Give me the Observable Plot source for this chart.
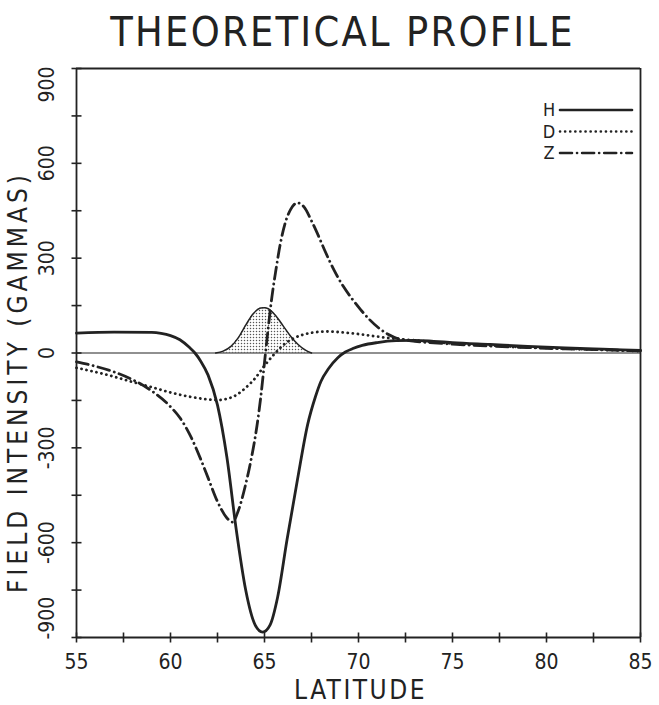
<!DOCTYPE html>
<html><head><meta charset="utf-8">
<script src="https://cdn.jsdelivr.net/npm/d3@7"></script>
<script src="https://cdn.jsdelivr.net/npm/@observablehq/plot@0.6"></script>
<style>body{margin:0;background:#fff}</style>
</head><body><div id="chart"></div>
<script>
// ---- data ----
const hLat = [55,57,59,59.5,60,60.5,61,61.3,61.6,62,62.5,63,63.5,64,64.5,64.9,65.3,65.7,66.2,66.75,67.3,67.7,68,68.4,68.9,69.3,69.7,70.2,71,72,73,74,75,77,79,81,83,85];
const hVal = [63,66,65,62,55,42,18,0,-25,-70,-165,-330,-560,-750,-860,-883,-860,-772,-590,-402,-225,-140,-90,-50,-15,3,14,24,33,39,40,37,33,27,21,16,12,8];

const dLat = [55,56,57,58,59,60,61,62,62.5,63,63.5,64,64.5,65,65.5,66,66.5,67,67.5,68.3,69,70,71,72,73,74,75,77,79,81,83,85];
const dVal = [-47,-60,-75,-92,-108,-125,-138,-147,-149,-145,-133,-110,-80,-40,-5,25,45,57,64,68,66,60,52,45,40,35,30,24,18,14,10,6];

const zLat = [55,56,57,58,59,60,60.5,61,61.6,62,62.5,63,63.3,63.6,64,64.25,64.6,64.8,65,65.2,65.4,65.6,65.85,66.1,66.4,66.75,67.1,67.5,67.8,68.2,68.7,69.2,69.7,70.1,70.6,71.1,71.9,73,74,75,77,79,81,83,85];
const zVal = [-28,-42,-60,-85,-120,-170,-205,-255,-335,-395,-470,-522,-535,-500,-415,-348,-230,-140,-30,80,180,260,348,411,455,475,462,418,380,325,262,210,168,138,105,78,50,37,32,28,22,17,13,10,7];

const humpLat = [62.4,62.8,63.2,63.6,64.0,64.4,64.8,65.0,65.2,65.6,66.0,66.4,66.8,67.2,67.5];
const humpVal = [0,6,20,48,88,124,142,143,140,118,85,52,26,8,0];

const xDomain = [55, 85];
const yDomain = [-900, 900];
const xTickValues = d3.range(55, 85.01, 2.5);
const xTickLabels = [55,60,65,70,75,80,85];
const yTickValues = d3.range(-900, 900.01, 150);
const yTickLabels = [-900,-600,-300,0,300,600,900];
const legendKeys = ["H","D","Z"];

const title = "THEORETICAL PROFILE";
const xTitle = "LATITUDE";
const yTitle = "FIELD INTENSITY (GAMMAS)";

// ---- build ----
const zip = (xs, ys) => xs.map((x, i) => ({lat: x, val: ys[i]}));
const H = zip(hLat, hVal), D = zip(dLat, dVal), Z = zip(zLat, zVal), hump = zip(humpLat, humpVal);

const INK = "#222";
const FONT = "'DejaVu Sans Condensed', 'DejaVu Sans', sans-serif";
const curve = "monotone-x";
const dotted = "0.1,5";
const dashdot = "12,5,0.1,5";
const dashes = ["none", dotted, dashdot];

const hbar = {draw(ctx, size) { const r = Math.sqrt(size / Math.PI); ctx.moveTo(-r, 0); ctx.lineTo(r, 0); }};
const vbar = {draw(ctx, size) { const r = Math.sqrt(size / Math.PI); ctx.moveTo(0, -r); ctx.lineTo(0, r); }};

function legendMark(index, scales, values, dims) {
  const g = d3.create("svg:g");
  const right = dims.width - dims.marginRight;
  legendKeys.forEach((k, i) => {
    const y = dims.marginTop + 42 + i * 21.5;
    g.append("text").attr("x", right - 91).attr("y", y).attr("dy", "0.36em")
      .attr("text-anchor", "middle").attr("font-size", 18).attr("fill", INK)
      .attr("font-family", FONT).text(k);
    g.append("line").attr("x1", right - 80).attr("x2", right - 8).attr("y1", y).attr("y2", y)
      .attr("stroke", INK).attr("stroke-width", 2.6).attr("stroke-linecap", "round")
      .attr("stroke-dasharray", dashes[i]);
  });
  return g.node();
}

const yMid = yTickLabels.filter(d => d > yDomain[0] && d < yDomain[1]);
const yTop = yTickLabels.filter(d => d === yDomain[1]);
const yBot = yTickLabels.filter(d => d === yDomain[0]);
const yLab = {text: d => String(d), frameAnchor: "left", dx: -29, rotate: -90, fontSize: 21, fill: INK, lineAnchor: "middle"};

const plot = Plot.plot({
  width: 659, height: 705,
  marginLeft: 76, marginRight: 19, marginTop: 68, marginBottom: 68,
  style: {fontFamily: FONT, background: "#fff", color: INK},
  x: {domain: xDomain, axis: null},
  y: {domain: yDomain, axis: null},
  marks: [
    Plot.areaY(hump, {x: "lat", y: "val", fill: "url(#stipple)", curve}),
    Plot.lineY(hump, {x: "lat", y: "val", stroke: INK, strokeWidth: 1.5, curve}),
    Plot.ruleY([0], {stroke: INK, strokeWidth: 1.2}),
    Plot.ruleX(xDomain, {stroke: INK, strokeWidth: 1.8}),
    Plot.ruleY(yDomain, {stroke: INK, strokeWidth: 1.8}),
    Plot.line(H, {x: "lat", y: "val", stroke: INK, strokeWidth: 2.8, curve}),
    Plot.line(D, {x: "lat", y: "val", stroke: INK, strokeWidth: 2.8, strokeDasharray: dotted, strokeLinecap: "round", curve}),
    Plot.line(Z, {x: "lat", y: "val", stroke: INK, strokeWidth: 2.8, strokeDasharray: dashdot, strokeLinecap: "round", curve}),
    Plot.dot(xTickValues, {x: d => d, frameAnchor: "bottom", symbol: vbar, r: 5, stroke: INK, strokeWidth: 1.6}),
    Plot.dot(yTickValues, {y: d => d, frameAnchor: "left", symbol: hbar, r: 5, stroke: INK, strokeWidth: 1.6}),
    Plot.text(xTickLabels, {x: d => d, text: d => String(d), frameAnchor: "bottom", dy: 25, fontSize: 21, fill: INK, lineAnchor: "middle"}),
    Plot.text(yMid, {y: d => d, textAnchor: "middle", ...yLab}),
    Plot.text(yTop, {y: d => d, textAnchor: "end", dy: -2, ...yLab}),
    Plot.text(yBot, {y: d => d, textAnchor: "start", dy: 2, ...yLab}),
    Plot.text([xTitle], {text: d => d, frameAnchor: "bottom", dx: 2, dy: 53, fontSize: 26, fill: INK, lineAnchor: "middle"}),
    Plot.text([yTitle], {text: d => d, frameAnchor: "left", dx: -58, dy: 29, rotate: -90, textAnchor: "middle", lineAnchor: "middle", fontSize: 26, fill: INK}),
    Plot.text([title], {text: d => d, frameAnchor: "top", dx: -16, dy: -36, fontSize: 41, fill: INK, lineAnchor: "middle"}),
    legendMark
  ]
});

const svg = d3.select(plot);
const pat = svg.insert("defs", ":first-child").append("pattern")
  .attr("id", "stipple").attr("patternUnits", "userSpaceOnUse").attr("width", 3).attr("height", 3);
pat.append("circle").attr("cx", 1.5).attr("cy", 1.5).attr("r", 0.75).attr("fill", "#555");

// letter spacing of the wide plotter lettering
const spacing = new Map([[title, 2.3], [xTitle, 2.5], [yTitle, 4]]);
svg.selectAll("text").each(function () {
  const s = spacing.get(this.textContent);
  if (s) d3.select(this).style("letter-spacing", s + "px");
});

document.getElementById("chart").append(plot);
</script>
</body></html>
